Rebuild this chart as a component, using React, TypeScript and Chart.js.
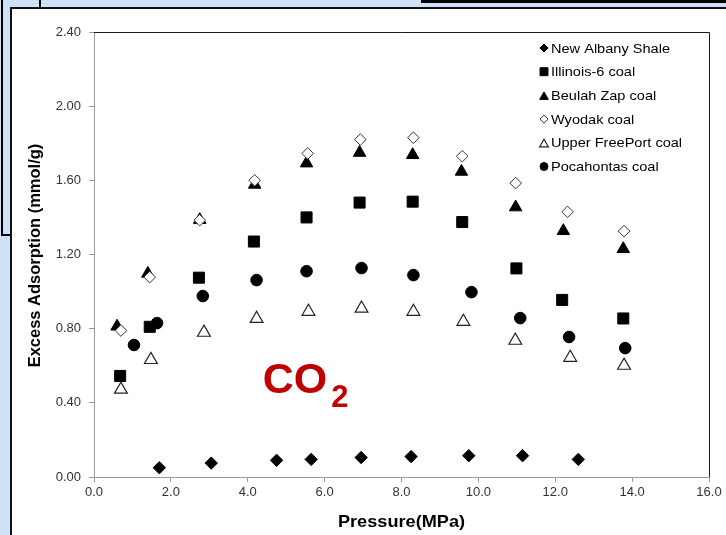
import React, { useEffect, useRef } from 'react';
import { Chart, registerables } from 'chart.js';
import { drawPoint } from 'chart.js/helpers';

Chart.register(...registerables);

const seriesNames = [
  'New Albany Shale',
  'Illinois-6 coal',
  'Beulah Zap coal',
  'Wyodak coal',
  'Upper FreePort coal',
  'Pocahontas coal',
];

const albanyX = [1.7, 3.05, 4.75, 5.65, 6.95, 8.25, 9.75, 11.15, 12.6];
const albanyY = [0.05, 0.075, 0.09, 0.095, 0.105, 0.11, 0.115, 0.115, 0.095];

const illinoisX = [0.68, 1.45, 2.73, 4.16, 5.53, 6.91, 8.29, 9.58, 10.99, 12.18, 13.77];
const illinoisY = [0.545, 0.81, 1.075, 1.27, 1.4, 1.48, 1.485, 1.375, 1.125, 0.955, 0.855];

const beulahX = [0.6, 1.4, 2.75, 4.18, 5.53, 6.91, 8.29, 9.56, 10.97, 12.21, 13.77];
const beulahY = [0.812, 1.097, 1.387, 1.577, 1.692, 1.749, 1.737, 1.647, 1.455, 1.327, 1.23];

const wyodakX = [0.7, 1.45, 2.75, 4.18, 5.56, 6.93, 8.31, 9.58, 10.97, 12.32, 13.79];
const wyodakY = [0.79, 1.078, 1.385, 1.6, 1.745, 1.82, 1.83, 1.73, 1.585, 1.43, 1.326];

const upperX = [0.7, 1.48, 2.86, 4.23, 5.58, 6.96, 8.31, 9.61, 10.96, 12.39, 13.79];
const upperY = [0.472, 0.632, 0.779, 0.854, 0.892, 0.909, 0.892, 0.838, 0.736, 0.644, 0.601];

const pocaX = [1.04, 1.64, 2.83, 4.23, 5.53, 6.96, 8.31, 9.82, 11.09, 12.36, 13.82];
const pocaY = [0.712, 0.83, 0.976, 1.062, 1.11, 1.127, 1.089, 0.997, 0.857, 0.755, 0.695];

const xAxisMin = 0;
const xAxisMax = 16;
const xAxisStep = 2;
const yAxisMin = 0;
const yAxisMax = 2.4;
const yAxisStep = 0.4;

const xTitle = 'Pressure(MPa)';
const yTitle = 'Excess Adsorption (mmol/g)';
const gasLabel = 'CO';
const gasSub = '2';
const gasAt = { x: 4.39, y: 0.453 };

const pts = (xs: number[], ys: number[]) => xs.map((x, i) => ({ x, y: ys[i] }));

const styles = [
  { pointStyle: 'rectRot', radius: 6.2, bg: '#000', border: '#000', bw: 1, lr: 4 },
  { pointStyle: 'rect', radius: 7.8, bg: '#000', border: '#000', bw: 1, lr: 5.6 },
  { pointStyle: 'triangle', radius: 7.2, bg: '#000', border: '#000', bw: 1, lr: 5 },
  { pointStyle: 'rectRot', radius: 5.8, bg: '#fff', border: '#333', bw: 1, lr: 4 },
  { pointStyle: 'triangle', radius: 7.4, bg: '#fff', border: '#222', bw: 1.2, lr: 5 },
  { pointStyle: 'circle', radius: 5.8, bg: '#000', border: '#000', bw: 1, lr: 4 },
];

const dataSets = [
  pts(albanyX, albanyY),
  pts(illinoisX, illinoisY),
  pts(beulahX, beulahY),
  pts(wyodakX, wyodakY),
  pts(upperX, upperY),
  pts(pocaX, pocaY),
];

const decor = {
  id: 'decor',
  beforeDatasetsDraw(chart: any) {
    const { ctx, chartArea: a } = chart;
    ctx.save();
    ctx.strokeStyle = '#1a1a1a';
    ctx.lineWidth = 1;
    ctx.beginPath();
    ctx.moveTo(a.left, a.top + 0.5);
    ctx.lineTo(a.right + 0.5, a.top + 0.5);
    ctx.lineTo(a.right + 0.5, a.bottom);
    ctx.stroke();
    ctx.restore();
  },
  afterDraw(chart: any) {
    const { ctx, chartArea: a, scales } = chart;
    ctx.save();
    // legend
    ctx.textBaseline = 'middle';
    ctx.textAlign = 'left';
    seriesNames.forEach((name, i) => {
      const st = styles[i];
      const cx = a.right - 165;
      const cy = a.top + 16 + i * 23.7;
      ctx.fillStyle = st.bg;
      ctx.strokeStyle = st.border;
      ctx.lineWidth = st.bw;
      drawPoint(ctx, { pointStyle: st.pointStyle as any, radius: st.lr, rotation: 0, borderWidth: st.bw }, cx, cy + (st.pointStyle === 'triangle' ? 1.5 : 0));
      ctx.save();
      ctx.translate(a.right - 158, cy + 1);
      ctx.scale(1.12, 1);
      ctx.fillStyle = '#000';
      ctx.font = '13px "Liberation Sans", Arial, sans-serif';
      ctx.fillText(name, 0, 0);
      ctx.restore();
    });
    // axis titles
    ctx.fillStyle = '#000';
    ctx.font = 'bold 16.5px "Liberation Sans", Arial, sans-serif';
    ctx.textAlign = 'center';
    ctx.textBaseline = 'middle';
    ctx.save();
    ctx.translate(35, (a.top + a.bottom) / 2 + 1);
    ctx.rotate(-Math.PI / 2);
    ctx.fillText(yTitle, 0, 0);
    ctx.restore();
    ctx.save();
    ctx.translate((a.left + a.right) / 2, 522);
    ctx.scale(1.1, 1);
    ctx.fillText(xTitle, 0, 0);
    ctx.restore();
    // CO2 label
    const gx = scales.x.getPixelForValue(gasAt.x);
    const gy = scales.y.getPixelForValue(gasAt.y);
    ctx.fillStyle = '#c00000';
    ctx.textAlign = 'left';
    ctx.textBaseline = 'alphabetic';
    ctx.font = 'bold 43px "Liberation Sans", Arial, sans-serif';
    ctx.fillText(gasLabel, gx, gy);
    const w = ctx.measureText(gasLabel).width;
    ctx.font = 'bold 31px "Liberation Sans", Arial, sans-serif';
    ctx.fillText(gasSub, gx + w + 4, gy + 14);
    ctx.restore();
  },
};

export default function App() {
  const ref = useRef<HTMLCanvasElement>(null);
  useEffect(() => {
    if (!ref.current) return;
    const chart = new Chart(ref.current, {
      type: 'scatter',
      data: {
        datasets: dataSets.map((d, i) => ({
          label: seriesNames[i],
          data: d,
          order: dataSets.length - i,
          pointStyle: styles[i].pointStyle as any,
          pointRadius: styles[i].radius,
          pointHoverRadius: styles[i].radius,
          backgroundColor: styles[i].bg,
          borderColor: styles[i].border,
          borderWidth: styles[i].bw,
          showLine: false,
        })),
      },
      options: {
        animation: false,
        responsive: false,
        devicePixelRatio: 1,
        layout: { padding: { left: 0, top: 32, right: 17, bottom: 0 } },
        plugins: { legend: { display: false }, tooltip: { enabled: false } },
        scales: {
          x: {
            type: 'linear',
            min: xAxisMin,
            max: xAxisMax,
            afterFit: (s: any) => { s.height = 58; },
            border: { color: '#9a9a9a', width: 1 },
            grid: { drawOnChartArea: false, drawTicks: true, tickLength: 5, color: '#9a9a9a' },
            ticks: {
              stepSize: xAxisStep,
              padding: 3,
              color: '#333',
              font: { family: '"Liberation Sans", Arial, sans-serif', size: 13 },
              callback: (v: any) => Number(v).toFixed(1),
              maxRotation: 0,
            },
          },
          y: {
            type: 'linear',
            min: yAxisMin,
            max: yAxisMax,
            afterFit: (s: any) => { s.width = 94; },
            border: { color: '#9a9a9a', width: 1 },
            grid: { drawOnChartArea: false, drawTicks: true, tickLength: 5, color: '#9a9a9a' },
            ticks: {
              stepSize: yAxisStep,
              padding: 8,
              color: '#333',
              font: { family: '"Liberation Sans", Arial, sans-serif', size: 13 },
              callback: (v: any) => Number(v).toFixed(2),
            },
          },
        },
      },
      plugins: [decor],
    });
    return () => chart.destroy();
  }, []);

  return (
    <div style={{ position: 'fixed', left: 0, top: 0, width: 726, height: 535, overflow: 'hidden', background: '#cde2f7' }}>
      <div style={{ position: 'absolute', left: 1, top: -5, width: 40, height: 241, border: '2px solid #000', boxSizing: 'border-box' }} />
      <div style={{ position: 'absolute', left: 421, top: -10, width: 400, height: 13, borderBottom: '3px solid #000', boxSizing: 'border-box' }} />
      <div style={{ position: 'absolute', left: 10, top: 7, width: 800, height: 600, background: '#fff', border: '2px solid #111', boxSizing: 'border-box' }} />
      <canvas ref={ref} width={726} height={535} style={{ position: 'absolute', left: 0, top: 0, width: 726, height: 535 }} />
    </div>
  );
}
